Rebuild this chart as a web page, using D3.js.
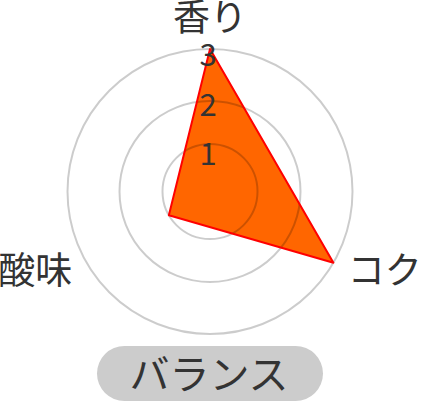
<!DOCTYPE html>
<html>
<head>
<meta charset="utf-8">
<script src="https://cdn.jsdelivr.net/npm/d3@7"></script>
<style>
  body { margin: 0; background: #fff; }
  text { font-family: "Noto Sans CJK JP", "Noto Sans", sans-serif; fill: #333; }
</style>
</head>
<body>
<div id="chart"></div>
<script>
// data
const axes = ["香り", "コク", "酸味"];
const values = [3, 3, 1];
const ticks = [1, 2, 3];
const tickLabels = ["1", "2", "3"];
const footer = "バランス";

const w = 421, h = 403;
const cx = 210, cy = 191.5;

const svg = d3.select("#chart").append("svg")
  .attr("width", w)
  .attr("height", h);

// radius scale (rings in the picture are not quite even)
const r = d3.scaleLinear().domain([0, 1, 2, 3]).range([0, 47.5, 90.5, 142.5]);
// tick label positions
const tickY = d3.scaleLinear().domain([1, 3]).range([cy - 37.5, cy - 136.5]);
const angle = d3.scaleLinear().domain([0, axes.length]).range([0, 2 * Math.PI]);

const g = svg.append("g");

//---------------- polygon ----------------
const pts = values.map((v, i) => {
  const a = angle(i);
  return [cx + r(v) * Math.sin(a), cy - r(v) * Math.cos(a)];
});

g.append("path")
  .attr("d", d3.line()(pts) + "Z")
  .attr("fill", "#ff6600");

//---------------- rings ----------------
g.selectAll("circle.ring")
  .data(ticks)
  .enter()
  .append("circle")
    .attr("class", "ring")
    .attr("cx", cx)
    .attr("cy", cy)
    .attr("r", d => r(d))
    .attr("fill", "none")
    .attr("stroke", "rgba(0,0,0,0.2)")
    .attr("stroke-width", 2);

g.append("path")
  .attr("d", d3.line()(pts) + "Z")
  .attr("fill", "none")
  .attr("stroke", "#ff0000")
  .attr("stroke-width", 2)
  .attr("stroke-linejoin", "round");

//---------------- tick labels ----------------
g.selectAll("text.tick")
  .data(ticks)
  .enter()
  .append("text")
    .attr("class", "tick")
    .attr("x", cx - 2)
    .attr("y", d => tickY(d))
    .attr("dy", "0.36em")
    .attr("text-anchor", "middle")
    .style("font-size", "31px")
    .text((d, i) => tickLabels[i]);

//---------------- axis labels ----------------
const labelR = 159;
g.selectAll("text.axis")
  .data(axes)
  .enter()
  .append("text")
    .attr("class", "axis")
    .attr("x", (d, i) => cx + labelR * Math.sin(angle(i)))
    .attr("y", (d, i) => i === 0 ? cy - labelR - 15 : cy - labelR * Math.cos(angle(i)))
    .attr("dy", "0.36em")
    .attr("text-anchor", (d, i) => i === 0 ? "middle" : (Math.sin(angle(i)) > 0 ? "start" : "end"))
    .style("font-size", "37px")
    .text(d => d);

//---------------- footer pill ----------------
svg.append("rect")
  .attr("x", 97)
  .attr("y", 346)
  .attr("width", 226)
  .attr("height", 55)
  .attr("rx", 27.5)
  .attr("fill", "#cccccc");

svg.append("text")
  .attr("x", 209)
  .attr("y", 375)
  .attr("dy", "0.36em")
  .attr("text-anchor", "middle")
  .style("font-size", "40px")
  .text(footer);
</script>
</body>
</html>
